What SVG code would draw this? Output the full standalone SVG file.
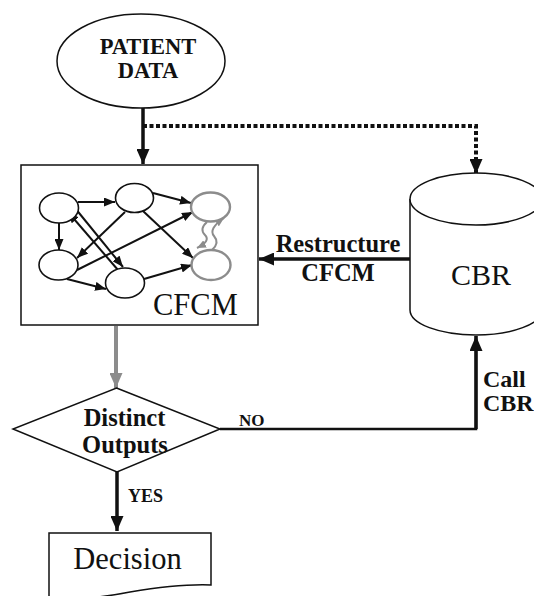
<svg xmlns="http://www.w3.org/2000/svg" width="534" height="596" viewBox="0 0 534 596">
<style>
.shape{fill:#fff;stroke:#111;stroke-width:1.5}
.node{fill:#fff;stroke:#111;stroke-width:1.6}
.gnode{fill:#fff;stroke:#8c8c8c;stroke-width:2.4}
.e{fill:none;stroke:#111;stroke-width:2;marker-end:url(#sa)}
.ge{fill:none;stroke:#8c8c8c;stroke-width:2;marker-end:url(#ga)}
.big{fill:none;stroke:#111;stroke-width:3.5;marker-end:url(#ba)}
.b{font-family:"Liberation Serif","Times New Roman",serif;font-weight:bold;fill:#111}
.r{font-family:"Liberation Serif","Times New Roman",serif;fill:#111}
</style>
<defs>
<marker id="sa" markerUnits="userSpaceOnUse" markerWidth="11" markerHeight="9" refX="11" refY="4.5" orient="auto"><path d="M0,0 L11,4.5 L0,9 z" fill="#111"/></marker>
<marker id="ga" markerUnits="userSpaceOnUse" markerWidth="9" markerHeight="8" refX="9" refY="4" orient="auto"><path d="M0,0 L9,4 L0,8 z" fill="#8c8c8c"/></marker>
<marker id="ba" markerUnits="userSpaceOnUse" markerWidth="15" markerHeight="13" refX="15" refY="6.5" orient="auto"><path d="M0,0 L15,6.5 L0,13 z" fill="#111"/></marker>
<marker id="gba" markerUnits="userSpaceOnUse" markerWidth="15" markerHeight="13" refX="15" refY="6.5" orient="auto"><path d="M0,0 L15,6.5 L0,13 z" fill="#8c8c8c"/></marker>
</defs>

<g id="connectors">
<line class="big" x1="143" y1="108" x2="143" y2="164"/>
<polyline points="143,126 476,126 476,174" fill="none" stroke="#111" stroke-width="4" stroke-dasharray="4,2.5" marker-end="url(#ba)"/>
<line class="big" x1="410" y1="259" x2="259" y2="259"/>
<line x1="116" y1="326" x2="116" y2="388" stroke="#8c8c8c" stroke-width="4" marker-end="url(#gba)"/>
<polyline points="220,429 476,429 476,336" fill="none" stroke="#111" stroke-width="2.5"/>
<line class="big" x1="476" y1="429" x2="476" y2="336"/>
<line class="big" x1="117" y1="472" x2="117" y2="531"/>
<text class="b" x="338" y="252" font-size="24.5" text-anchor="middle">Restructure</text>
<text class="b" x="338" y="281" font-size="24.5" text-anchor="middle">CFCM</text>
<text class="b" x="483" y="387" font-size="24">Call</text>
<text class="b" x="483" y="411" font-size="24">CBR</text>
<text class="b" x="239" y="426" font-size="17">NO</text>
<text class="b" x="128" y="502" font-size="18">YES</text>
</g>

<g id="patient-data">
<ellipse class="shape" cx="141" cy="61" rx="84" ry="47"/>
<text class="b" x="148" y="54" font-size="22.5" text-anchor="middle">PATIENT</text>
<text class="b" x="148" y="78" font-size="22.5" text-anchor="middle">DATA</text>
</g>

<g id="cfcm">
<rect class="shape" x="21" y="165" width="237" height="160"/>
<g id="cfcm-edges">
<line class="e" x1="78" y1="202" x2="115" y2="202"/>
<line class="e" x1="59" y1="223" x2="59" y2="250"/>
<line class="e" x1="153" y1="193" x2="191" y2="203"/>
<line class="e" x1="143" y1="211" x2="193" y2="258"/>
<line class="e" x1="125" y1="212" x2="77" y2="258"/>
<line class="e" x1="77" y1="270" x2="193" y2="212"/>
<line class="e" x1="67" y1="279" x2="106" y2="289"/>
<line class="e" x1="144" y1="279" x2="192" y2="265"/>
<line class="e" x1="118" y1="270" x2="68" y2="212"/>
<line class="e" x1="75" y1="208" x2="123" y2="267"/>
<path class="ge" d="M207,222 Q199,229 205,235 T197,248"/>
<path class="ge" d="M212,250 Q220,243 214,236 T224,218"/>
</g>
<ellipse id="n1" class="node" cx="59" cy="208" rx="19.5" ry="15"/>
<ellipse id="n2" class="node" cx="134.5" cy="198" rx="19" ry="14.5"/>
<ellipse id="n3" class="gnode" cx="210.5" cy="207" rx="19.5" ry="14.5"/>
<ellipse id="n4" class="node" cx="58.5" cy="265" rx="19.5" ry="15"/>
<ellipse id="n5" class="node" cx="125" cy="283" rx="19.5" ry="15"/>
<ellipse id="n6" class="gnode" cx="211" cy="265" rx="19.5" ry="15"/>
<text class="r" x="153" y="315" font-size="30.5">CFCM</text>
</g>

<g id="cbr">
<path class="shape" d="M410,199 V310 A66,25 0 0 0 542,310 V199"/>
<ellipse class="shape" cx="476" cy="199" rx="66" ry="26"/>
<text class="r" x="481" y="285" font-size="30" text-anchor="middle">CBR</text>
</g>

<g id="distinct-outputs">
<polygon class="shape" points="116.5,388 220,429 117,472 13,429"/>
<text class="b" x="124.5" y="426" font-size="24.5" text-anchor="middle">Distinct</text>
<text class="b" x="125" y="453" font-size="24.5" text-anchor="middle">Outputs</text>
</g>

<g id="decision">
<path class="shape" d="M49,600 V533 H211 V585 C185,584 160,587 130,592 C105,597 80,600 49,599"/>
<text class="r" x="127.5" y="569" font-size="30.5" text-anchor="middle">Decision</text>
</g>
</svg>
